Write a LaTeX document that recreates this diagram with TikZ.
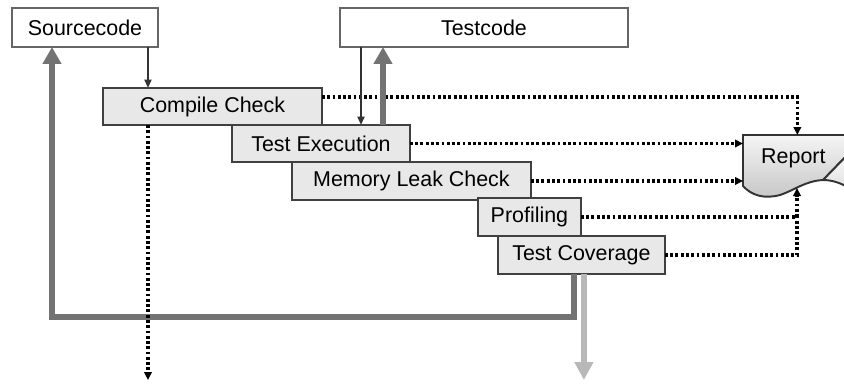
\documentclass[tikz,border=0pt]{standalone}
\usepackage{fontspec}
\setmainfont{Liberation Sans}
\usetikzlibrary{arrows.meta, positioning}

\begin{document}
\begin{tikzpicture}[
    x=0.02cm, y=-0.02cm,
    box/.style={rectangle, draw=black!75, fill=gray!18, line width=1.1pt,
                inner sep=0pt, outer sep=0pt, anchor=north west,
                font=\fontsize{12.2}{14}\selectfont},
    codebox/.style={box, draw=black!60, fill=white},
    arr/.style={-{Triangle[length=0.17cm,width=0.14cm]}, line width=1.3pt, draw=black!80},
    dotline/.style={line width=1.8pt, dash pattern=on 1.6pt off 1.4pt, black},
    dotarr/.style={dotline, -{Triangle[length=0.16cm,width=0.15cm]}},
    looparr/.style={-{Triangle[length=0.34cm,width=0.36cm]}, line width=3.4pt, draw=black!55},
    exitarr/.style={-{Triangle[length=0.36cm,width=0.36cm]}, line width=3.4pt, draw=black!28}
]
  \useasboundingbox (0,0) rectangle (844,383);

  % report sheet
  \begin{scope}
    \clip (0,0) rectangle (844,383);
    \shadedraw[top color=gray!8, bottom color=gray!45, draw=black!80, line width=1.1pt]
      (743,186) -- (743,135) -- (856,135) -- (856,146) -- (823,180)
      .. controls (805,181) and (795,190) .. (780,195)
      .. controls (765,199) and (752,196) .. (743,186) -- cycle;
    \shadedraw[top color=white, bottom color=gray!25, draw=black!80, line width=1.1pt]
      (823,180) -- (856,146) -- (856,192)
      .. controls (845,185) and (835,180) .. (823,180) -- cycle;
  \end{scope}
  \node[minimum width=2cm, minimum height=0.9cm, inner sep=0pt, anchor=north west,
        font=\fontsize{12.2}{14}\selectfont] (report) at (743,135) {Report};

  \node[codebox, minimum width=2.92cm, minimum height=0.78cm] (src)  at (12,8)  {Sourcecode};
  \node[codebox, minimum width=5.76cm, minimum height=0.78cm] (test) at (340,8) {Testcode};

  \node[box, minimum width=4.38cm, minimum height=0.74cm] (compile) at (103,88) {Compile Check};
  \node[box, minimum width=3.56cm, minimum height=0.74cm] (exec)  at ([xshift=2.58cm]compile.south west) {Test Execution};
  \node[box, minimum width=4.78cm, minimum height=0.76cm] (leak)  at ([xshift=1.2cm]exec.south west) {Memory Leak Check};
  \node[box, minimum width=2.06cm, minimum height=0.76cm] (prof)  at ([xshift=3.72cm,yshift=0.04cm]leak.south west) {Profiling};
  \node[box, minimum width=3.34cm, minimum height=0.76cm] (cover) at ([xshift=0.4cm]prof.south west) {Test Coverage};

  \coordinate (s1) at ([xshift=-0.2cm]src.south east);
  \coordinate (t1) at ([xshift=0.42cm]test.south west);
  \coordinate (t2) at ([xshift=0.86cm]test.south west);
  \coordinate (c1) at ([xshift=-0.15cm]cover.south);
  \coordinate (c2) at ([xshift=0.05cm]cover.south);
  \coordinate (loop) at (52,317);
  \coordinate (bottom) at (0,380);
  \coordinate (rtop) at ([xshift=0.08cm]report.north);
  \coordinate (rbot) at (797,188);

  % feedback loops
  \draw[looparr] (c1) |- (loop) -- (loop |- src.south);
  \draw[exitarr] (c2) -- (c2 |- bottom);

  % results to the report
  \draw[dotarr] ([yshift=0.19cm]compile.east) -| (rtop);
  \draw[dotarr] (exec.east) -- (exec.east -| report.west);
  \draw[dotarr] (leak.east) -- (leak.east -| report.west);
  \draw[dotline] (cover.east) -| (prof.east -| rbot);
  \draw[dotarr] (prof.east) -| (rbot);
  \draw[dotarr] (s1 |- compile.south) -- (s1 |- bottom);

  \draw[arr] (s1) -- (s1 |- compile.north);
  \draw[arr] (t1) -- (t1 |- exec.north);
  \draw[looparr] (t2 |- exec.north) -- (t2);
\end{tikzpicture}
\end{document}
